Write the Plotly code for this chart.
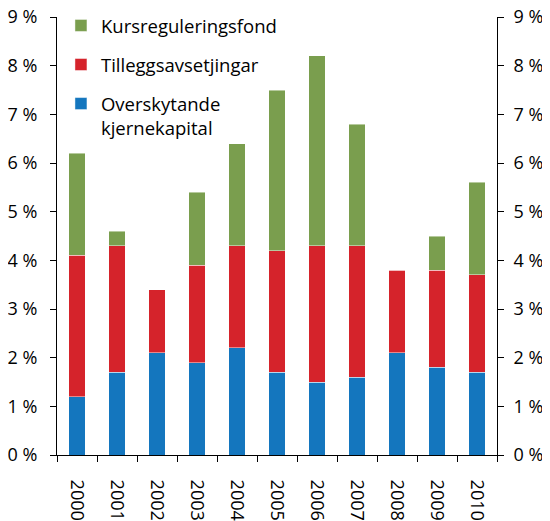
import plotly.graph_objects as go

years = ["2000", "2001", "2002", "2003", "2004", "2005",
         "2006", "2007", "2008", "2009", "2010"]
kjernekapital = [1.2, 1.7, 2.1, 1.9, 2.2, 1.7, 1.5, 1.6, 2.1, 1.8, 1.7]
tillegg = [2.9, 2.6, 1.3, 2.0, 2.1, 2.5, 2.8, 2.7, 1.7, 2.0, 2.0]
kursreg = [2.1, 0.3, 0.0, 1.5, 2.1, 3.3, 3.9, 2.5, 0.0, 0.7, 1.9]
yticks = [0, 1, 2, 3, 4, 5, 6, 7, 8, 9]
yticklabels = [f"{v} %" for v in yticks]

FONT = "Open Sans"
blue = "#1476be"
red = "#d5232b"
green = "#7a9e4e"

fig = go.Figure()
series = [
    ("Overskytande<br>kjernekapital", kjernekapital, blue, 3),
    ("Tilleggsavsetjingar", tillegg, red, 2),
    ("Kursreguleringsfond", kursreg, green, 1),
]
for name, vals, col, rank in series:
    fig.add_trace(go.Bar(
        x=years, y=vals, name=name, legendgroup=name, legendrank=rank,
        marker=dict(color=col, line=dict(color="rgba(255,255,255,0.45)", width=1)),
        width=0.42,
    ))

# hidden trace so the right axis gets drawn
fig.add_trace(go.Scatter(x=years, y=kjernekapital, yaxis="y2", mode="none",
                         showlegend=False, hoverinfo="skip"))

axis_y = dict(
    range=[0, 9], tickvals=yticks, ticktext=yticklabels,
    showline=True, linecolor="black", linewidth=1,
    ticks="outside", ticklen=6, tickcolor="black",
    showgrid=False, zeroline=False, ticklabelstandoff=9,
    automargin=False, ticklabeloverflow="allow",
    tickfont=dict(family=FONT, size=18, color="black"),
)

# the page puts the plot 8px in from the top-left, so the figure is 8px smaller
fig.update_layout(
    width=542, height=513,
    barmode="stack",
    plot_bgcolor="white", paper_bgcolor="white",
    margin=dict(l=49, r=53, t=9, b=66, autoexpand=False),
    showlegend=True,
    legend=dict(
        x=0.009, y=1.023, xanchor="left", yanchor="top",
        traceorder="grouped", tracegroupgap=12,
        valign="top", bgcolor="rgba(0,0,0,0)",
        font=dict(family=FONT, size=18.5, color="black"),
    ),
    xaxis=dict(
        showline=True, linecolor="black", linewidth=1,
        ticks="outside", tickson="boundaries", ticklen=6, tickcolor="black",
        tickangle=90, showgrid=False, automargin=False, ticklabelstandoff=20,
        tickfont=dict(family=FONT, size=18, color="black"),
    ),
    yaxis=axis_y,
    yaxis2=dict(axis_y, overlaying="y", side="right", ticklabelstandoff=6),
)

fig.write_html("out.html")
